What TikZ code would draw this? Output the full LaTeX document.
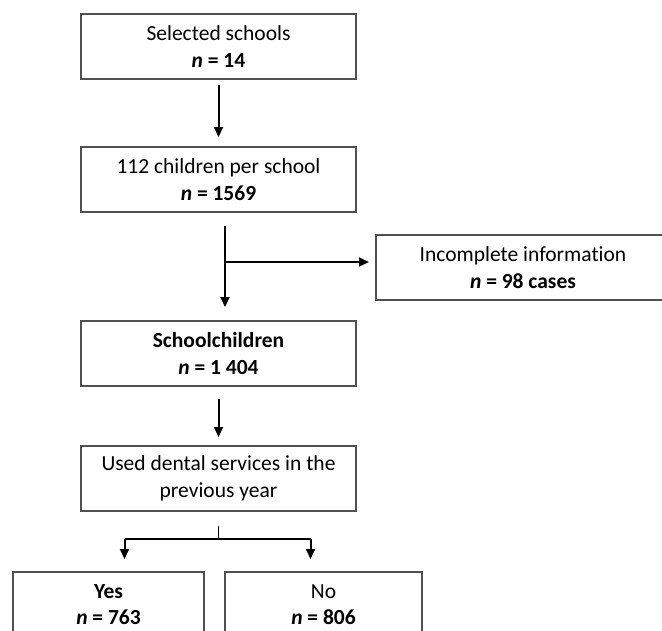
\documentclass[tikz,border=0pt]{standalone}
\usepackage{fontspec}
\setmainfont{Carlito}[Ligatures=NoCommon]
\usetikzlibrary{arrows.meta,calc}
\definecolor{bordergray}{RGB}{80,80,80}
\begin{document}
\begin{tikzpicture}[x=1pt,y=-1pt,
  box/.style={draw=bordergray, line width=2pt, rectangle, minimum height=65pt,
    inner sep=0pt, align=center, font=\fontsize{21.5}{26.5}\selectfont},
  arr/.style={draw=black, line width=2pt, -{Triangle[length=10pt,width=9pt]}},
  conn/.style={draw=black, line width=1.6pt}]
\useasboundingbox (0,0) rectangle (662,630);
\clip (0,0) rectangle (662,630);
\node[box, minimum width=275pt] (b1) at (218.5,46.5) {Selected schools\\\textbf{\textit{n} = 14}};
\node[box, minimum width=275pt] (b2) at (218.5,179.5) {112 children per school\\\textbf{\textit{n} = 1569}};
\node[box, minimum width=275pt] (b3) at (218.5,353.5) {\textbf{Schoolchildren}\\\textbf{\textit{n} = 1 404}};
\node[box, minimum width=275pt] (b4) at (218.5,478.5) {Used dental services in the\\previous year};
\node[box, minimum width=294pt] (inc) at (523,267.5) {Incomplete information\\\textbf{\textit{n} = 98 cases}};
\node[box, minimum width=191pt] (yes) at (108.5,604.5) {\textbf{Yes}\\\textbf{\textit{n} = 763}};
\node[box, minimum width=197pt] (no) at (323.5,604.5) {No\\\textbf{\textit{n} = 806}};
% arrow 1
\draw[arr, shorten <=5pt, shorten >=9pt] (b1) -- (b2);
% arrow 2 with branch
\coordinate (s2) at ($(b2.south)+(6.5,13)$);
\coordinate (e2) at ($(b3.north)+(6.5,-13)$);
\coordinate (br) at ($(s2)+(0,36)$);
\draw[arr] (s2) -- (e2);
\draw[arr, shorten >=6pt] (br) -- (br -| inc.west);
% arrow 3
\draw[arr, shorten <=12pt, shorten >=8pt] (b3) -- (b4);
% split
\coordinate (s4) at ($(b4.south)+(0,14)$);
\coordinate (j) at ($(s4)+(0,13)$);
\coordinate (jl) at ($(j)+(-94,0)$);
\coordinate (jr) at ($(j)+(92,0)$);
\draw[conn] (s4) -- (j);
\draw[conn] (jl) -- (jr);
\draw[arr, shorten >=12pt] (jl) -- (jl |- yes.north);
\draw[arr, shorten >=12pt] (jr) -- (jr |- no.north);
\end{tikzpicture}
\end{document}
